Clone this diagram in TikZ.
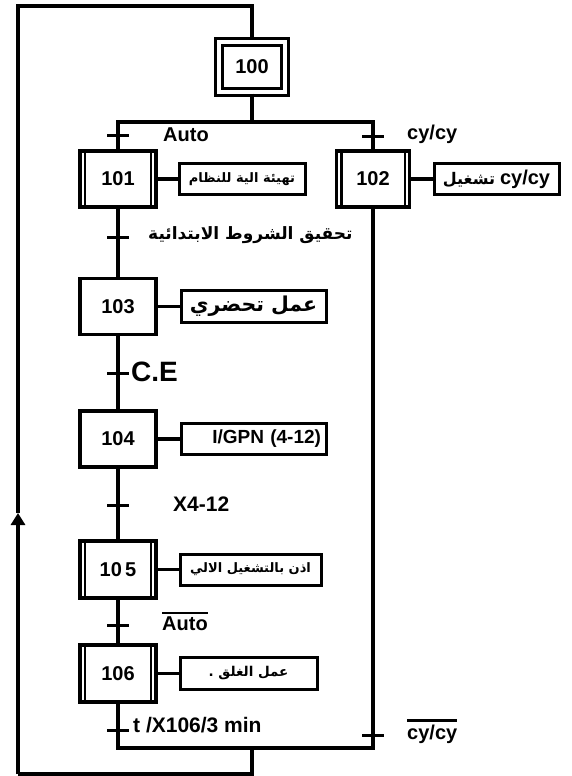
\documentclass[tikz,border=0pt]{standalone}
\usepackage{fontspec}
\setmainfont{Liberation Sans}
\newfontfamily\arabicfont[Script=Arabic]{DejaVu Sans}
\TeXXeTstate=1
\usepackage{tikz}
\usetikzlibrary{arrows.meta}

\tikzset{
  link/.style={black, line width=3.2pt},
  tick/.style={black, line width=3pt},
  inner/.style={black, line width=2.2pt},
  stepbox/.style={draw, line width=3.2pt, inner sep=0pt, minimum width=76pt, minimum height=56pt, font=\bfseries\fontsize{20}{20}\selectfont},
  initstep/.style={draw, line width=3.2pt, double, double distance=3.5pt, inner sep=0pt, minimum width=66pt, minimum height=50pt, font=\bfseries\fontsize{20}{20}\selectfont},
  actbox/.style={draw, line width=3pt, inner sep=0pt, minimum height=31pt},
  lab/.style={anchor=west, inner sep=0pt, font=\bfseries\fontsize{20}{20}\selectfont},
}
\newcommand{\ar}[1]{{\arabicfont\bfseries\beginR #1\endR}}

\begin{document}
\begin{tikzpicture}[x=1pt,y=-1pt]
\useasboundingbox (0,0) rectangle (571,776);
% steps
\node[initstep] (s100) at (252,67) {100};
\node[stepbox] (s101) at (118,179) {101};
\node[stepbox,minimum width=73pt] (s102) at (373,179) {102};
\node[stepbox] (s103) at (118,306.5) {103};
\node[stepbox] (s104) at (118,439) {104};
\node[stepbox,minimum width=76pt,minimum height=57pt] (s105) at (118,569.5) {10\,5};
\node[stepbox,minimum height=57pt] (s106) at (118,673.5) {106};
\foreach \s in {s101,s102,s105,s106}{
  \draw[inner] ([xshift=6.5pt]\s.north west) -- ([xshift=6.5pt]\s.south west);
  \draw[inner] ([xshift=-6.5pt]\s.north east) -- ([xshift=-6.5pt]\s.south east);
}
% actions
\node[actbox,minimum width=126pt,font=\fontsize{13}{13}\selectfont] (a101) at (242,179) {\ar{تهيئة الية للنظام}};
\node[actbox,minimum width=125pt] (a102) at (496.5,179) {{\fontsize{16}{16}\selectfont\ar{تشغيل}}\hspace{5pt}\textbf{\fontsize{20}{20}\selectfont cy/cy}};
\node[actbox,minimum width=145pt,minimum height=32pt,font=\fontsize{20.5}{20.5}\selectfont] (a103) at (253.5,306.5) {\ar{عمل تحضري}};
\node[actbox,minimum width=145pt,text width=135pt,align=right,font=\bfseries\fontsize{19}{19}\selectfont] (a104) at (253.5,439) {I/GPN (4-12)};
\node[actbox,minimum width=141pt,minimum height=31pt,font=\fontsize{13}{13}\selectfont] (a105) at (250.5,569.5) {\ar{اذن بالتشغيل الالي}};
\node[actbox,minimum width=137pt,minimum height=32pt,font=\fontsize{13.5}{13.5}\selectfont] (a106) at (248.5,673.5) {\ar{عمل الغلق .}};
\foreach \s/\a in {s101/a101,s102/a102,s103/a103,s104/a104,s105/a105,s106/a106}
  \draw[link] (\s) -- (\a);
% junctions
\coordinate (jt) at (252,122);
\coordinate (jl) at (118,122);
\coordinate (jr) at (373,122);
\coordinate (jbl) at (118,748);
\coordinate (jbr) at (373,748);
\coordinate (jb) at (252,748);
% links
\draw[link] (s100) -- (jt);
\draw[link,line cap=rect] (jl) -- (jr);
\draw[link] (jl) -- (s101);
\draw[link] (jr) -- (s102);
\draw[link] (s101) -- (s103);
\draw[link] (s103) -- (s104);
\draw[link] (s104) -- (s105);
\draw[link] (s105) -- (s106);
\draw[link,line join=miter] (s106) -- (jbl) -- (jbr) -- (s102);
% loop back to 100
\coordinate (c1) at (252,774);
\coordinate (c2) at (18,774);
\coordinate (c3) at (18,6);
\coordinate (c4) at (252,6);
\coordinate (cm) at (18,513);
\draw[link] (jb) -- (c1) -- (c2);
\draw[link,-{Triangle[width=14pt,length=12pt]}] (c2) -- (cm);
\draw[link,line join=miter] (cm) -- (c3) -- (c4) -- (s100);
% transitions
\foreach \t/\x/\y in {t1/118/135,t2/373/136,t3/118/237,t4/118/373,t5/118/505,t6/118/625,t7/118/730,t8/373/735}{
  \coordinate (\t) at (\x,\y);
  \draw[tick] ([xshift=-11pt]\t) -- ([xshift=11pt]\t);
}
\node[lab] (l1) at (163,135) {Auto};
\node[lab] (l2) at (407,134) {cy/cy};
\node[anchor=west,inner sep=0pt,font=\fontsize{17}{17}\selectfont] (l3) at (148,235) {\ar{تحقيق الشروط الابتدائية}};
\node[lab,font=\bfseries\fontsize{28}{28}\selectfont] (l4) at (131,372) {C.E};
\node[lab,font=\bfseries\fontsize{21}{21}\selectfont] (l5) at (173,504) {X4-12};
\node[lab] (l6) at (162,624) {Auto};
\node[lab,font=\bfseries\fontsize{21}{21}\selectfont] (l7) at (133,725) {t /X106/3 min};
\node[lab] (l8) at (407,734) {cy/cy};
\foreach \l in {l6,l8}
  \draw[inner] ([yshift=4pt]\l.north west) -- ([yshift=4pt]\l.north east);
\end{tikzpicture}
\end{document}
